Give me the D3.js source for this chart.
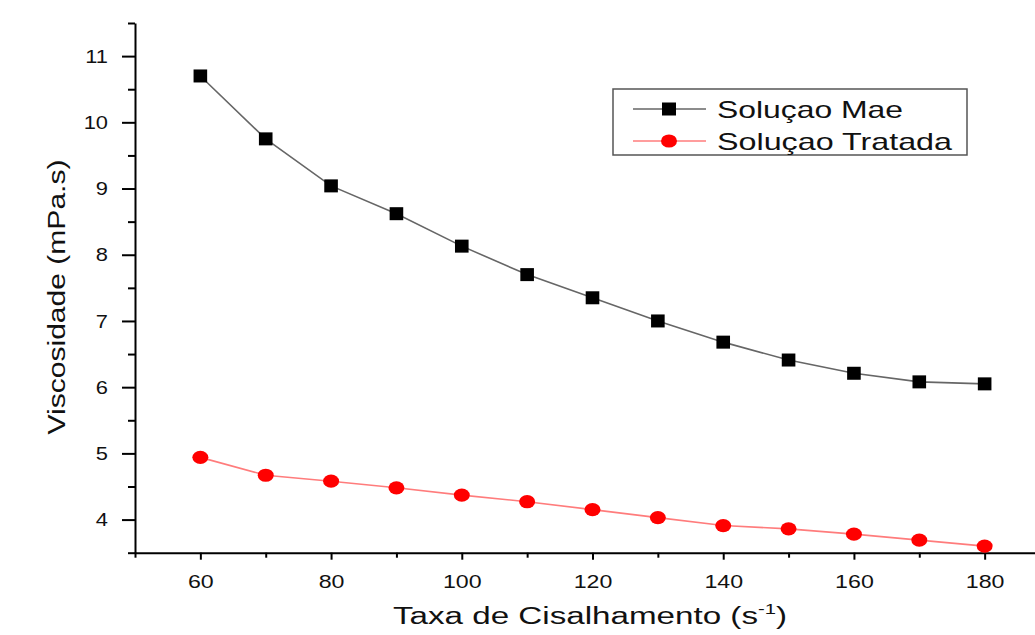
<!DOCTYPE html>
<html>
<head>
<meta charset="utf-8">
<script src="https://cdn.jsdelivr.net/npm/d3@7"></script>
<style>
  body { margin: 0; background: #fff; }
  text { font-family: "Liberation Sans", Arial, sans-serif; fill: #111; }
</style>
</head>
<body>
<div id="chart"></div>
<script>
// shear rate (s^-1)
var taxa = [60, 70, 80, 90, 100, 110, 120, 130, 140, 150, 160, 170, 180];
// viscosity (mPa.s)
var mae = [10.70, 9.75, 9.04, 8.62, 8.13, 7.70, 7.35, 7.00, 6.68, 6.41, 6.21, 6.08, 6.05];
var tratada = [4.94, 4.67, 4.58, 4.48, 4.37, 4.27, 4.15, 4.03, 3.91, 3.86, 3.78, 3.69, 3.60];
var seriesNames = ["Soluçao Mae", "Soluçao Tratada"];
var xTicks = [60, 80, 100, 120, 140, 160, 180];
var xMinor = [50, 70, 90, 110, 130, 150, 170, 190];
var yTicks = [4, 5, 6, 7, 8, 9, 10, 11];
var yMinor = [3.5, 4.5, 5.5, 6.5, 7.5, 8.5, 9.5, 10.5, 11.5];

var width = 1035;
var height = 635;

var svg = d3.select("#chart").append("svg").attr("width", width).attr("height", height);

var x = d3.scaleLinear().domain([50, 190]).range([135, 1050]);
var y = d3.scaleLinear().domain([3.5, 11.5]).range([552.7, 23]);

// stretch text horizontally, the reference looks wider than Arial
var stretch = function(sel, k) {
  sel.each(function() {
    var w = this.getComputedTextLength();
    d3.select(this).attr("textLength", w * k).attr("lengthAdjust", "spacingAndGlyphs");
  });
};

// minor ticks first
svg.append("g").attr("transform", "translate(0,552.7)")
  .call(d3.axisBottom(x).tickValues(xMinor).tickSize(5).tickSizeOuter(0).tickFormat(""))
  .call(g => g.select(".domain").remove())
  .selectAll("line").attr("stroke", "#000").attr("stroke-width", 2);

svg.append("g").attr("transform", "translate(135,0)")
  .call(d3.axisLeft(y).tickValues(yMinor).tickSize(7).tickSizeOuter(0).tickFormat(""))
  .call(g => g.select(".domain").remove())
  .selectAll("line").attr("stroke", "#000").attr("stroke-width", 2);

var xAxis = svg.append("g").attr("transform", "translate(0,552.7)")
  .call(d3.axisBottom(x).tickValues(xTicks).tickSize(7).tickSizeOuter(0).tickPadding(15));
xAxis.select(".domain").attr("stroke", "#000").attr("stroke-width", 2);
xAxis.selectAll("line").attr("stroke", "#000").attr("stroke-width", 2);
xAxis.selectAll("text").attr("font-size", 19).attr("font-family", "Liberation Sans").attr("fill", "#111")
  .call(stretch, 1.22);

var yAxis = svg.append("g").attr("transform", "translate(135,0)")
  .call(d3.axisLeft(y).tickValues(yTicks).tickSize(13).tickSizeOuter(0).tickPadding(14));
yAxis.select(".domain").attr("stroke", "#000").attr("stroke-width", 2);
yAxis.selectAll("line").attr("stroke", "#000").attr("stroke-width", 2);
yAxis.selectAll("text").attr("font-size", 19).attr("font-family", "Liberation Sans").attr("fill", "#111")
  .call(stretch, 1.15);

// lines
var line = d3.line().x((d, i) => x(taxa[i])).y(d => y(d));

svg.append("path").datum(mae).attr("d", line)
  .attr("fill", "none").attr("stroke", "#666").attr("stroke-width", 1.6);
svg.append("path").datum(tratada).attr("d", line)
  .attr("fill", "none").attr("stroke", "#ff7c7c").attr("stroke-width", 1.6);

svg.selectAll(".sq").data(mae).enter().append("rect")
  .attr("class", "sq")
  .attr("x", (d, i) => x(taxa[i]) - 6.8)
  .attr("y", d => y(d) - 6.5)
  .attr("width", 13.6).attr("height", 13)
  .attr("fill", "#000");

svg.selectAll(".dot").data(tratada).enter().append("ellipse")
  .attr("class", "dot")
  .attr("cx", (d, i) => x(taxa[i]))
  .attr("cy", d => y(d))
  .attr("rx", 8).attr("ry", 6.6)
  .attr("fill", "#ff0000");

// legend
var legend = svg.append("g");
legend.append("rect").attr("x", 613).attr("y", 89).attr("width", 354).attr("height", 66)
  .attr("fill", "#fff").attr("stroke", "#555").attr("stroke-width", 1.5);

legend.append("line").attr("x1", 633).attr("x2", 706).attr("y1", 109).attr("y2", 109)
  .attr("stroke", "#666").attr("stroke-width", 1.6);
legend.append("rect").attr("x", 662).attr("y", 102.5).attr("width", 14).attr("height", 13).attr("fill", "#000");
legend.append("line").attr("x1", 633).attr("x2", 706).attr("y1", 141).attr("y2", 141)
  .attr("stroke", "#ff7c7c").attr("stroke-width", 1.6);
legend.append("ellipse").attr("cx", 669).attr("cy", 141).attr("rx", 8).attr("ry", 6.6).attr("fill", "#ff0000");

legend.append("text").attr("x", 717).attr("y", 118).attr("font-size", 24)
  .attr("textLength", 186).attr("lengthAdjust", "spacingAndGlyphs").text(seriesNames[0]);
legend.append("text").attr("x", 717).attr("y", 150).attr("font-size", 24)
  .attr("textLength", 235).attr("lengthAdjust", "spacingAndGlyphs").text(seriesNames[1]);

// axis titles
var xt = svg.append("text").attr("x", 393).attr("y", 624).attr("font-size", 23)
  .attr("textLength", 394).attr("lengthAdjust", "spacingAndGlyphs");
xt.append("tspan").text("Taxa de Cisalhamento (s");
xt.append("tspan").attr("font-size", 14).attr("dy", -10).text("-1");
xt.append("tspan").attr("dy", 10).text(")");

svg.append("text").attr("transform", "translate(65,297) rotate(-90)")
  .attr("text-anchor", "middle").attr("font-size", 23)
  .attr("textLength", 275).attr("lengthAdjust", "spacingAndGlyphs")
  .text("Viscosidade (mPa.s)");
</script>
</body>
</html>
